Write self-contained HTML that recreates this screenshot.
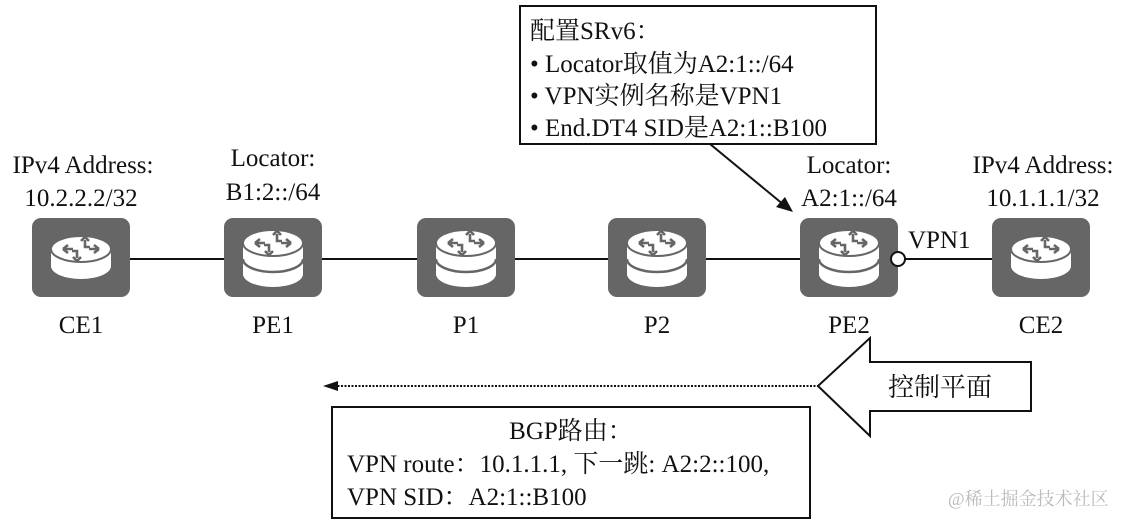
<!DOCTYPE html>
<html><head><meta charset="utf-8"><style>
html,body{margin:0;padding:0;background:#fff;}
svg{display:block;}
text{font-family:"Liberation Serif","Noto Serif CJK SC",serif;fill:#111;}
</style></head><body>
<svg width="1122" height="524" viewBox="0 0 1122 524" xmlns="http://www.w3.org/2000/svg">
<defs>
<g id="arrows" fill="none" stroke="#666" stroke-width="2.6">
  <path d="M-18,-15 h10 M-18,-15 l5,-4 M-18,-15 l5,4"/>
  <path d="M18,-15 h-10 M18,-15 l-5,-4 M18,-15 l-5,4"/>
  <path d="M4,-24 v7 h5 M4,-27 l-4,4 M4,-27 l4,4"/>
  <path d="M-4,-6 v-7 h-5 M-4,-3 l-4,-4 M-4,-3 l4,-4"/>
</g>
<g id="r1">
  <rect x="-49" y="-40" width="98" height="79" rx="9" fill="#666"/>
  <ellipse cx="0" cy="8" rx="30" ry="13" fill="#fff"/>
  <rect x="-30" y="-9" width="60" height="17" fill="#fff"/>
  <ellipse cx="0" cy="-9" rx="30" ry="13" fill="#fff" stroke="#666" stroke-width="2"/>
  <use href="#arrows" transform="translate(0,6)"/>
</g>
<g id="r2">
  <rect x="-49" y="-40" width="98" height="79" rx="9" fill="#666"/>
  <ellipse cx="0" cy="16" rx="30" ry="13" fill="#fff"/>
  <rect x="-30" y="-15" width="60" height="31" fill="#fff"/>
  <path d="M-30,1 A30,13 0 0 0 30,1" fill="none" stroke="#666" stroke-width="2.5"/>
  <ellipse cx="0" cy="-15" rx="30" ry="13" fill="#fff" stroke="#666" stroke-width="2"/>
  <use href="#arrows"/>
</g>
</defs>

<line x1="130" y1="259" x2="1000" y2="259" stroke="#111" stroke-width="2"/>

<use href="#r1" x="81" y="258"/>
<use href="#r2" x="273" y="258"/>
<use href="#r2" x="466" y="258"/>
<use href="#r2" x="657" y="258"/>
<use href="#r2" x="849" y="258"/>
<use href="#r1" x="1041" y="258"/>
<circle cx="898" cy="259" r="7" fill="#fff" stroke="#111" stroke-width="2"/>

<g font-size="25" text-anchor="middle">
<text x="83" y="173">IPv4 Address:</text>
<text x="81" y="206">10.2.2.2/32</text>
<text x="273" y="166">Locator:</text>
<text x="273" y="200">B1:2::/64</text>
<text x="849" y="173">Locator:</text>
<text x="849" y="206">A2:1::/64</text>
<text x="1043" y="173">IPv4 Address:</text>
<text x="1043" y="206">10.1.1.1/32</text>
<text x="81" y="333">CE1</text>
<text x="273" y="333">PE1</text>
<text x="466" y="333">P1</text>
<text x="657" y="333">P2</text>
<text x="849" y="333">PE2</text>
<text x="1041" y="333">CE2</text>
</g>
<text x="908" y="248" font-size="25">VPN1</text>

<rect x="520" y="6" width="356" height="138" fill="#fff" stroke="#111" stroke-width="2"/>
<g font-size="25">
<text x="530" y="39">配置SRv6：</text>
<text x="530" y="72">• Locator取值为A2:1::/64</text>
<text x="530" y="104">• VPN实例名称是VPN1</text>
<text x="530" y="136">• End.DT4 SID是A2:1::B100</text>
</g>
<line x1="710" y1="144" x2="784" y2="205" stroke="#111" stroke-width="2"/>
<polygon points="793,212 776,207 785,197" fill="#111"/>

<line x1="334" y1="386" x2="818" y2="386" stroke="#111" stroke-width="2" stroke-dasharray="2,1.5"/>
<polygon points="323,386 338,381 338,391" fill="#111"/>
<polygon points="818,386 870,338 870,362 1031,362 1031,411 870,411 870,436" fill="#fff" stroke="#111" stroke-width="2"/>
<text x="940" y="396" font-size="26" text-anchor="middle" font-family="Noto Sans CJK SC,sans-serif">控制平面</text>

<rect x="332" y="407" width="478" height="111" fill="#fff" stroke="#111" stroke-width="2"/>
<g font-size="25">
<text x="571" y="439" text-anchor="middle">BGP路由：</text>
<text x="347" y="472">VPN route：10.1.1.1, 下一跳: A2:2::100,</text>
<text x="347" y="505">VPN SID：A2:1::B100</text>
</g>
<text x="948" y="505" font-size="18" style="fill:#bbb" font-family="Liberation Sans,Noto Sans CJK SC,sans-serif">@稀土掘金技术社区</text>
</svg>
</body></html>
